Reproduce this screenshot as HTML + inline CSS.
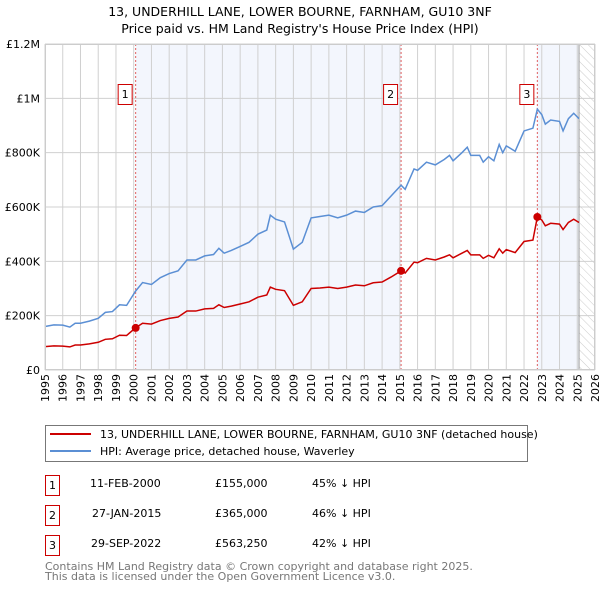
<!DOCTYPE html>
<html><head><meta charset="utf-8"><style>
body{margin:0;background:#fff;font-family:"DejaVu Sans","Liberation Sans",sans-serif;}
svg text{font-family:"DejaVu Sans","Liberation Sans",sans-serif;}
</style></head><body>
<svg id="c" width="600" height="590" viewBox="0 0 600 590">
<defs><pattern id="hatch" width="6" height="6" patternUnits="userSpaceOnUse" patternTransform="rotate(-45)"><line x1="0" y1="0" x2="0" y2="6" stroke="#ccc" stroke-width="1"/></pattern></defs>
<text x="300" y="16" text-anchor="middle" font-size="12.5">13, UNDERHILL LANE, LOWER BOURNE, FARNHAM, GU10 3NF</text>
<text x="300" y="33" text-anchor="middle" font-size="12.5">Price paid vs. HM Land Registry's House Price Index (HPI)</text>
<g id="plot"></g>
<g>
<rect x="45.5" y="425.5" width="482" height="36" fill="#fff" stroke="#777"/>
<line x1="50" y1="434" x2="91" y2="434" stroke="#cc0000" stroke-width="2"/>
<text x="100" y="438" font-size="11">13, UNDERHILL LANE, LOWER BOURNE, FARNHAM, GU10 3NF (detached house)</text>
<line x1="50" y1="451" x2="91" y2="451" stroke="#5b8fd4" stroke-width="2"/>
<text x="100" y="455" font-size="11">HPI: Average price, detached house, Waverley</text>
</g>
<g font-size="11">
<rect x="45.5" y="475.5" width="14" height="20" fill="#fff" stroke="#cc0000"/><text x="52.5" y="489" text-anchor="middle">1</text>
<text x="90" y="487">11-FEB-2000</text><text x="215" y="487">£155,000</text><text x="312" y="487">45% ↓ HPI</text>
<rect x="45.5" y="505.5" width="14" height="20" fill="#fff" stroke="#cc0000"/><text x="52.5" y="519" text-anchor="middle">2</text>
<text x="92" y="517">27-JAN-2015</text><text x="215" y="517">£365,000</text><text x="312" y="517">46% ↓ HPI</text>
<rect x="45.5" y="535.5" width="14" height="20" fill="#fff" stroke="#cc0000"/><text x="52.5" y="549" text-anchor="middle">3</text>
<text x="91" y="547">29-SEP-2022</text><text x="215" y="547">£563,250</text><text x="312" y="547">42% ↓ HPI</text>
</g>
<text x="45" y="570" font-size="11" fill="#777">Contains HM Land Registry data © Crown copyright and database right 2025.</text>
<text x="45" y="580" font-size="11" fill="#777">This data is licensed under the Open Government Licence v3.0.</text>
</svg>
<script>
const hpiYears=[1995.0,1995.5,1996.0,1996.4,1996.7,1997.0,1997.5,1998.0,1998.4,1998.8,1999.2,1999.6,2000.1,2000.5,2001.0,2001.5,2002.0,2002.5,2003.0,2003.5,2004.0,2004.5,2004.8,2005.1,2005.5,2006.0,2006.5,2007.0,2007.5,2007.7,2008.0,2008.5,2009.0,2009.5,2010.0,2010.5,2011.0,2011.5,2012.0,2012.5,2013.0,2013.5,2014.0,2014.5,2015.07,2015.3,2015.8,2016.0,2016.5,2017.0,2017.5,2017.8,2018.0,2018.5,2018.8,2019.0,2019.5,2019.7,2020.0,2020.3,2020.6,2020.8,2021.0,2021.5,2022.0,2022.5,2022.75,2023.0,2023.2,2023.5,2024.0,2024.2,2024.5,2024.8,2025.1];
const hpiValues=[160,166,165,158,172,172,180,190,212,215,240,238,290,322,315,340,355,365,405,405,420,425,448,430,440,455,470,500,515,570,555,545,445,470,560,565,570,560,570,585,580,600,605,640,680,665,740,735,765,755,775,790,770,800,820,790,790,765,785,770,830,800,825,805,880,890,960,940,905,920,915,880,925,945,925];
const priceValues=[86,89,88,85,92,92,96,102,113,115,128,127,155,172,169,182,190,195,217,217,225,227,240,230,235,243,251,268,276,305,297,292,238,251,300,302,305,300,305,313,310,321,324,342,365,357,397,395,411,405,416,424,413,430,440,424,424,411,422,413,446,430,443,432,473,478,563,552,531,540,537,517,543,555,543];
const saleYears=[2000.11,2015.07,2022.75];
const saleValues=[155,365,563.25];
const saleLabels=["1","2","3"];
const yTicks=[0,200,400,600,800,1000,1200];
const yTickLabels=["£0","£200K","£400K","£600K","£800K","£1M","£1.2M"];
const xTicks=[1995,1996,1997,1998,1999,2000,2001,2002,2003,2004,2005,2006,2007,2008,2009,2010,2011,2012,2013,2014,2015,2016,2017,2018,2019,2020,2021,2022,2023,2024,2025,2026];
const shadeRanges=[[2000.11,2015.07],[2022.75,2025.1]];
const dataEnd=2025.1;

const X0=45,X1=595,Y0=370,Y1=44;
const xs=t=>X0+(t-1995)/(2026-1995)*(X1-X0);
const ys=v=>Y0-v/1200*(Y0-Y1);
const NS="http://www.w3.org/2000/svg";
const g=document.getElementById('plot');
function mk(tag,attrs){const e=document.createElementNS(NS,tag);for(const k in attrs)e.setAttribute(k,attrs[k]);g.appendChild(e);return e;}
shadeRanges.forEach(r=>{const e=mk('rect',{x:xs(r[0]),y:Y1,width:xs(r[1])-xs(r[0]),height:Y0-Y1,fill:'#f3f6fd'});

});
const h=mk('rect',{x:xs(dataEnd),y:Y1,width:X1-xs(dataEnd),height:Y0-Y1,fill:'url(#hatch)'});


xTicks.forEach((t,i)=>{mk('line',{x1:xs(t),x2:xs(t),y1:Y1,y2:Y0,stroke:'#d0d0d0','stroke-width':1});
const tx=mk('text',{x:0,y:0,'font-size':11,'text-anchor':'end',transform:`translate(${xs(t)+4},${Y0+4}) rotate(-90)`});tx.textContent=t;

});
yTicks.forEach((v,i)=>{mk('line',{x1:X0,x2:X1,y1:ys(v),y2:ys(v),stroke:'#d0d0d0','stroke-width':1});
const tx=mk('text',{x:40,y:ys(v)+4,'font-size':11,'text-anchor':'end'});tx.textContent=yTickLabels[i];

});
const dl=mk('line',{x1:xs(dataEnd),x2:xs(dataEnd),y1:Y1,y2:Y0,stroke:'#999','stroke-width':1});


saleYears.forEach((t,i)=>{const l=mk('line',{x1:xs(t),x2:xs(t),y1:Y1,y2:Y0,stroke:'#e06060','stroke-width':1,'stroke-dasharray':'2,2'});

});
const hp=mk('polyline',{points:hpiYears.map((t,i)=>xs(t)+','+ys(hpiValues[i])).join(' '),fill:'none',stroke:'#5b8fd4','stroke-width':1.5});


const pp=mk('polyline',{points:hpiYears.map((t,i)=>xs(t)+','+ys(priceValues[i])).join(' '),fill:'none',stroke:'#cc0000','stroke-width':1.5});


saleYears.forEach((t,i)=>{const c=mk('circle',{cx:xs(t),cy:ys(saleValues[i]),r:4,fill:'#cc0000'});


const b=mk('rect',{x:xs(t)-17.5,y:84.5,width:14,height:20,fill:'#fff',stroke:'#cc0000'});


const tx=mk('text',{x:xs(t)-10.5,y:98,'font-size':11,'text-anchor':'middle'});tx.textContent=saleLabels[i];

});
mk('rect',{x:X0+0.5,y:Y1+0.5,width:X1-X0-1,height:Y0-Y1-1,fill:'none',stroke:'#ccc'});
</script>
</body></html>
